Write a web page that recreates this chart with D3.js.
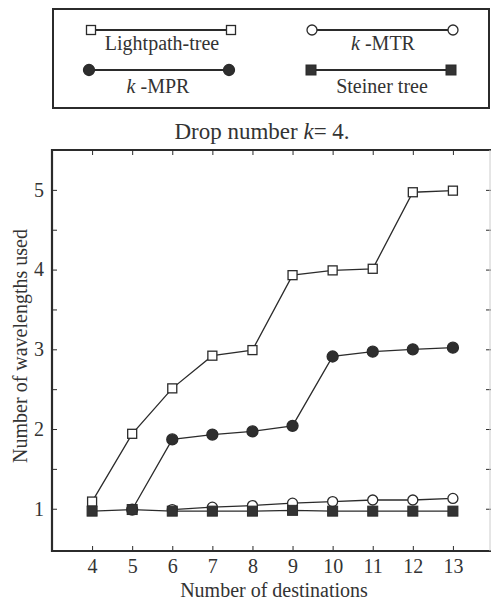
<!DOCTYPE html>
<html>
<head>
<meta charset="utf-8">
<script src="https://cdn.jsdelivr.net/npm/d3@7/dist/d3.min.js"></script>
<style>
  body { margin: 0; }
  .fig text, .fig tspan { font-family: "Liberation Serif" !important; }
</style>
</head>
<body>
<script>
// Number of destinations on the x axis
const destinations = [4, 5, 6, 7, 8, 9, 10, 11, 12, 13];

// Wavelengths used by each scheme (drop number k = 4)
const lightpathTree = [1.09, 1.94, 2.51, 2.92, 2.99, 3.93, 3.99, 4.01, 4.97, 4.99];
const kMPR          = [null, 0.99, 1.87, 1.93, 1.97, 2.04, 2.91, 2.97, 3.00, 3.02];
const kMTR          = [null, null, 0.99, 1.02, 1.04, 1.07, 1.09, 1.11, 1.11, 1.13];
const steinerTree   = [0.97, 0.99, 0.97, 0.97, 0.97, 0.98, 0.97, 0.97, 0.97, 0.97];

const yTickLabels = [1, 2, 3, 4, 5];
const yMinorTicks = [1.5, 2.5, 3.5, 4.5];

const ink = "#2b2b2b";
const textInk = "#333";
const FONT = "Liberation Serif";

const svg = d3.select("body").append("svg")
  .attr("class", "fig")
  .attr("width", 491).attr("height", 605)
  .style("display", "block");

const x = d3.scaleLinear().domain([3, 14]).range([52, 493]);
const y = d3.scaleLinear().domain([0.47, 5.5]).range([551, 150]);

function setFont(sel, size) {
  return sel
    .style("font", `${size}px "${FONT}"`)
    .attr("fill", textInk);
}

function addText(parent, size) {
  return setFont(parent.append("text"), size);
}

// ---- legend box ----
svg.append("rect")
  .attr("x", 53).attr("y", 9).attr("width", 436).attr("height", 99)
  .attr("fill", "none").attr("stroke", ink).attr("stroke-width", 2);

const series = [
  { name: "Lightpath-tree", values: lightpathTree, marker: "square", filled: false,
    leg: { x1: 91, x2: 231, y: 30, tx: 162, ty: 50 } },
  { name: "k-MTR", values: kMTR, marker: "circle", filled: false,
    leg: { x1: 312, x2: 453, y: 30, tx: 383, ty: 50 } },
  { name: "k-MPR", values: kMPR, marker: "circle", filled: true,
    leg: { x1: 89, x2: 229, y: 70, tx: 158, ty: 93 } },
  { name: "Steiner tree", values: steinerTree, marker: "square", filled: true,
    leg: { x1: 311, x2: 451, y: 70, tx: 382, ty: 93 } }
];

function drawMarker(g, s, cx, cy) {
  if (s.marker === "square") {
    const sz = s.filled ? 10 : 9;
    g.append("rect")
      .attr("x", cx - sz / 2).attr("y", cy - sz / 2)
      .attr("width", sz).attr("height", sz)
      .attr("fill", s.filled ? "#333" : "#fff")
      .attr("stroke", ink).attr("stroke-width", s.filled ? 1 : 1.3);
  } else {
    g.append("circle")
      .attr("cx", cx).attr("cy", cy).attr("r", s.filled ? 5.5 : 5)
      .attr("fill", s.filled ? "#2e2e2e" : "#fff")
      .attr("stroke", ink).attr("stroke-width", 1.3);
  }
}

// legend entries
const legendG = svg.append("g");
series.forEach(s => {
  const l = s.leg;
  legendG.append("line")
    .attr("x1", l.x1).attr("x2", l.x2).attr("y1", l.y).attr("y2", l.y)
    .attr("stroke", ink).attr("stroke-width", 2.2);
  drawMarker(legendG, s, l.x1, l.y);
  drawMarker(legendG, s, l.x2, l.y);
  const t = addText(legendG, 20)
    .attr("x", l.tx).attr("y", l.ty)
    .attr("text-anchor", "middle");
  if (s.name.startsWith("k-")) {
    t.append("tspan").style("font-style", "italic").text("k");
    t.append("tspan").text(" -" + s.name.slice(2));
  } else {
    t.text(s.name);
  }
});

// ---- title ----
const title = addText(svg, 23)
  .attr("x", 262).attr("y", 139)
  .attr("text-anchor", "middle");
title.append("tspan").text("Drop number ");
title.append("tspan").style("font-style", "italic").text("k");
title.append("tspan").text("= 4.");

// ---- axes (ticks point inward) ----
const allYTicks = yTickLabels.concat(yMinorTicks);

function finishAxis(g) {
  g.attr("font-family", null).attr("font-size", null);
  g.select(".domain").remove();
  g.selectAll("line").attr("stroke", ink);
  setFont(g.selectAll("text"), 20);
}

svg.append("g")
  .attr("transform", `translate(0,${y.range()[0]})`)
  .call(d3.axisBottom(x).tickValues(destinations).tickSizeInner(-5).tickSizeOuter(0).tickPadding(8).tickFormat(d3.format("d")))
  .call(finishAxis);

svg.append("g")
  .attr("transform", `translate(0,${y.range()[1]})`)
  .call(d3.axisTop(x).tickValues(destinations).tickSizeInner(-5).tickSizeOuter(0).tickFormat(""))
  .call(finishAxis);

svg.append("g")
  .attr("transform", `translate(${x.range()[0]},0)`)
  .call(d3.axisLeft(y).tickValues(allYTicks).tickSizeInner(-5).tickSizeOuter(0).tickPadding(8)
    .tickFormat(d => Number.isInteger(d) ? d3.format("d")(d) : ""))
  .call(finishAxis);

svg.append("g")
  .attr("transform", `translate(${x.range()[1] - 2},0)`)
  .call(d3.axisRight(y).tickValues(allYTicks).tickSizeInner(-5).tickSizeOuter(0).tickFormat(""))
  .call(finishAxis);

// plot frame: left, bottom and top spines, faint right edge
svg.append("path")
  .attr("d", `M${x.range()[1]},${y.range()[1]} H${x.range()[0]} V${y.range()[0]} H${x.range()[1]}`)
  .attr("fill", "none").attr("stroke", ink).attr("stroke-width", 2.2);
svg.append("line")
  .attr("x1", 490).attr("x2", 490).attr("y1", y.range()[1]).attr("y2", y.range()[0])
  .attr("stroke", "#ccc").attr("stroke-width", 1);

// ---- axis titles ----
addText(svg, 20)
  .attr("x", 274).attr("y", 597)
  .attr("text-anchor", "middle")
  .text("Number of destinations");

addText(svg, 20)
  .attr("transform", "translate(27,346) rotate(-90)")
  .attr("text-anchor", "middle")
  .text("Number of wavelengths used");

// ---- series lines and markers ----
const line = d3.line()
  .defined(d => d[1] !== null)
  .x(d => x(d[0])).y(d => y(d[1]));

const plotG = svg.append("g");
series.forEach(s => {
  const pts = destinations.map((d, i) => [d, s.values[i]]);
  plotG.append("path")
    .datum(pts)
    .attr("d", line)
    .attr("fill", "none").attr("stroke", ink).attr("stroke-width", 1.3);
});
// draw order: Lightpath-tree, k-MPR, k-MTR, Steiner tree on top
[series[0], series[2], series[1], series[3]].forEach(s => {
  destinations.forEach((d, i) => {
    if (s.values[i] !== null) drawMarker(plotG, s, x(d), y(s.values[i]));
  });
});
</script>
</body>
</html>
